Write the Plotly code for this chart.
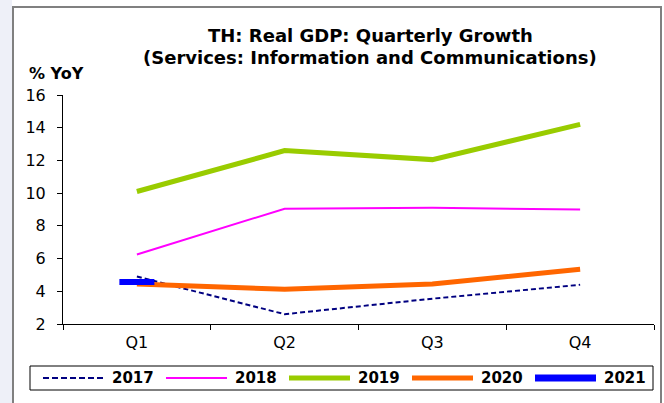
import plotly.graph_objects as go

quarters = ["Q1", "Q2", "Q3", "Q4"]
y2017 = [4.9, 2.6, 3.55, 4.4]
y2018 = [6.25, 9.05, 9.1, 9.0]
y2019 = [10.1, 12.6, 12.05, 14.2]
y2020 = [4.45, 4.12, 4.45, 5.35]
q2021 = ["Q1"]
y2021 = [4.57]

series_names = ["2017", "2018", "2019", "2020", "2021"]
colors = ["#000080", "#FF00FF", "#99CC00", "#FF6600", "#0000FF"]

W, H = 664, 403
L, R, T, B = 63, 10, 95, 79
PW, PH = W - L - R, H - T - B

def px(x):
    return (x - L) / PW

def py(y):
    return (H - B - y) / PH

FONT = "DejaVu Sans, Verdana, sans-serif"

fig = go.Figure()
fig.add_trace(go.Scatter(x=quarters, y=y2017, mode="lines", name="2017",
                         line=dict(color=colors[0], width=2, dash="5px,3px")))
fig.add_trace(go.Scatter(x=quarters, y=y2018, mode="lines", name="2018",
                         line=dict(color=colors[1], width=2)))
fig.add_trace(go.Scatter(x=quarters, y=y2019, mode="lines", name="2019",
                         line=dict(color=colors[2], width=5)))
fig.add_trace(go.Scatter(x=quarters, y=y2020, mode="lines", name="2020",
                         line=dict(color=colors[3], width=5)))
fig.add_trace(go.Scatter(x=q2021, y=y2021, mode="markers", name="2021",
                         marker=dict(symbol="line-ew", size=25,
                                     line=dict(color=colors[4], width=6))))

shapes = []
annotations = []

# outer background strip and frame
shapes.append(dict(type="rect", xref="paper", yref="paper",
                   x0=px(0), x1=px(12), y0=py(0), y1=py(H + 5),
                   fillcolor="#eef0f8", line=dict(width=0), layer="below"))
shapes.append(dict(type="rect", xref="paper", yref="paper",
                   x0=px(13), x1=px(661), y0=py(7), y1=py(H + 10),
                   line=dict(color="#808080", width=2), fillcolor="rgba(0,0,0,0)"))

# legend box
shapes.append(dict(type="rect", xref="paper", yref="paper",
                   x0=px(30), x1=px(653), y0=py(366), y1=py(390),
                   line=dict(color="black", width=1), fillcolor="white"))
ly = 378
for i, name in enumerate(series_names):
    x0 = 43 + 123 * i
    x1 = x0 + 61
    dash = "6px,3px" if i == 0 else "solid"
    lw = [2, 2, 5, 5, 7][i]
    shapes.append(dict(type="line", xref="paper", yref="paper",
                       x0=px(x0), x1=px(x1), y0=py(ly), y1=py(ly),
                       line=dict(color=colors[i], width=lw, dash=dash)))
    annotations.append(dict(text="<b>%s</b>" % name, xref="paper", yref="paper",
                            x=px(x1 + 6), y=py(ly), xanchor="left", yanchor="middle",
                            showarrow=False, font=dict(family=FONT, size=15, color="black")))

# title
annotations.append(dict(text="<b>TH: Real GDP: Quarterly Growth</b>", xref="paper", yref="paper",
                        x=px(370), y=py(35), xanchor="center", yanchor="middle",
                        showarrow=False, font=dict(family=FONT, size=18, color="black")))
annotations.append(dict(text="<b>(Services: Information and Communications)</b>", xref="paper", yref="paper",
                        x=px(370), y=py(58), xanchor="center", yanchor="middle",
                        showarrow=False, font=dict(family=FONT, size=18, color="black")))
annotations.append(dict(text="<b>% YoY</b>", xref="paper", yref="paper",
                        x=px(27), y=py(74), xanchor="left", yanchor="middle",
                        showarrow=False, font=dict(family=FONT, size=16, color="black")))

fig.update_layout(
    width=W, height=H,
    margin=dict(l=L, r=R, t=T, b=B, pad=0),
    paper_bgcolor="white", plot_bgcolor="white",
    showlegend=False,
    shapes=shapes, annotations=annotations,
    font=dict(family=FONT, size=16, color="black"),
)
fig.update_xaxes(type="category", categoryorder="array", categoryarray=quarters,
                 range=[-0.5, 3.5], showgrid=False, zeroline=False,
                 showline=True, linecolor="black", linewidth=1,
                 ticks="outside", ticklen=5, tickcolor="black", tickson="boundaries",
                 tickfont=dict(family=FONT, size=16, color="black"), ticklabelstandoff=4)
fig.update_yaxes(range=[2, 16], dtick=2, showgrid=False, zeroline=False,
                 showline=True, linecolor="black", linewidth=1,
                 ticks="outside", ticklen=5, tickcolor="black",
                 tickfont=dict(family=FONT, size=16, color="black"), ticklabelstandoff=8)

fig.write_html("out.html", config={"displayModeBar": False},
               post_script="document.body.style.margin='0';")
